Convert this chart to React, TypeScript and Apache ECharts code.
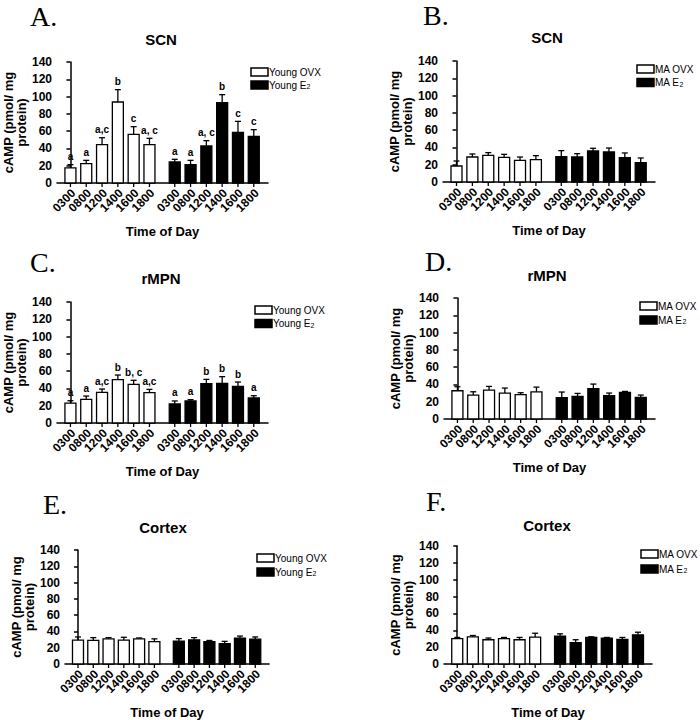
import React, { useEffect, useRef } from "react";
import * as echarts from "echarts";

// ---------- DATA ----------
const times = ["0300", "0800", "1200", "1400", "1600", "1800"];
const yTicks = [0, 20, 40, 60, 80, 100, 120, 140];

// Panel A – SCN, young
const A_OVX_mean = [17.4, 22.4, 44.3, 93.7, 56.3, 44.3];
const A_OVX_sem = [3.8, 3.8, 8.1, 14.3, 8.9, 7.4];
const A_OVX_sig = ["a", "a", "a,c", "b", "c", "a, c"];
const A_E2_mean = [24.3, 21.2, 42.8, 92.9, 58.6, 54.0];
const A_E2_sem = [3.1, 5.0, 6.2, 9.3, 12.7, 7.7];
const A_E2_sig = ["a", "a", "a, c", "b", "c", "c"];

// Panel B – SCN, middle-aged
const B_OVX_mean = [18.5, 28.9, 30.9, 28.5, 25.1, 25.8];
const B_OVX_sem = [5.8, 3.5, 3.1, 3.5, 3.8, 4.7];
const B_E2_mean = [29.3, 28.9, 35.9, 34.7, 28.2, 22.4];
const B_E2_sem = [7.0, 3.9, 3.1, 4.6, 5.4, 5.4];

// Panel C – rMPN, young
const C_OVX_mean = [23.1, 27.4, 35.5, 50.1, 44.7, 35.1];
const C_OVX_sem = [2.7, 3.8, 3.8, 5.4, 4.7, 3.8];
const C_OVX_sig = ["a", "a", "a,c", "b", "b, c", "a,c"];
const C_E2_mean = [22.0, 25.5, 45.5, 45.9, 42.4, 28.9];
const C_E2_sem = [3.5, 1.5, 5.0, 7.7, 5.0, 2.7];
const C_E2_sig = ["a", "a", "b", "b", "b", "a"];

// Panel D – rMPN, middle-aged
const D_OVX_mean = [32.7, 27.7, 33.5, 30.0, 28.1, 31.5];
const D_OVX_sem = [4.6, 3.8, 4.2, 5.8, 2.3, 5.4];
const D_E2_mean = [24.6, 26.2, 35.0, 26.9, 30.8, 25.0];
const D_E2_sem = [6.6, 3.4, 5.4, 3.1, 1.1, 2.7];

// Panel E – Cortex, young
const E_OVX_mean = [29.3, 28.9, 30.9, 29.3, 30.9, 27.4];
const E_OVX_sem = [3.9, 3.5, 1.5, 3.5, 1.1, 3.5];
const E_E2_mean = [28.2, 29.7, 27.4, 25.1, 31.6, 30.5];
const E_E2_sem = [3.0, 2.7, 1.5, 2.7, 2.7, 2.7];

// Panel F – Cortex, middle-aged
const F_OVX_mean = [30.0, 32.3, 28.8, 30.0, 28.8, 31.9];
const F_OVX_sem = [1.5, 1.5, 2.0, 1.5, 2.7, 4.6];
const F_E2_mean = [33.1, 25.4, 31.5, 30.8, 29.2, 34.6];
const F_E2_sem = [2.7, 3.4, 0.8, 0.7, 2.3, 3.1];

const youngNames = ["Young OVX", "Young E2"];
const maNames = ["MA OVX", "MA E2"];

// ---------- LAYOUT ----------
const SANS = '"Liberation Sans", Arial, sans-serif';
const SERIF = '"Liberation Serif", "Times New Roman", serif';
const GROUP2_OFFSET = 6.6;

const panels = [
  {
    letter: "A.", region: "SCN", names: youngNames,
    ovx: [A_OVX_mean, A_OVX_sem, A_OVX_sig], e2: [A_E2_mean, A_E2_sem, A_E2_sig],
    grid: { left: 57, top: 62, width: 211, height: 121 },
    letterPos: [30, 16], titlePos: [161, 39], legendPos: [251, 72, 85],
  },
  {
    letter: "B.", region: "SCN", names: maNames,
    ovx: [B_OVX_mean, B_OVX_sem, null], e2: [B_E2_mean, B_E2_sem, null],
    grid: { left: 443, top: 61, width: 212, height: 121 },
    letterPos: [423, 15], titlePos: [547, 37], legendPos: [637, 69, 82.5],
  },
  {
    letter: "C.", region: "rMPN", names: youngNames,
    ovx: [C_OVX_mean, C_OVX_sem, C_OVX_sig], e2: [C_E2_mean, C_E2_sem, C_E2_sig],
    grid: { left: 57, top: 302, width: 211, height: 121 },
    letterPos: [30, 262], titlePos: [161, 278], legendPos: [255, 310, 323.5],
  },
  {
    letter: "D.", region: "rMPN", names: maNames,
    ovx: [D_OVX_mean, D_OVX_sem, null], e2: [D_E2_mean, D_E2_sem, null],
    grid: { left: 444, top: 298, width: 211, height: 121 },
    letterPos: [425, 261], titlePos: [547, 275], legendPos: [640, 306, 320],
  },
  {
    letter: "E.", region: "Cortex", names: youngNames,
    ovx: [E_OVX_mean, E_OVX_sem, null], e2: [E_E2_mean, E_E2_sem, null],
    grid: { left: 65, top: 550, width: 204, height: 121 },
    letterPos: [43, 504], titlePos: [163, 527], legendPos: [257, 558, 572],
  },
  {
    letter: "F.", region: "Cortex", names: maNames,
    ovx: [F_OVX_mean, F_OVX_sem, null], e2: [F_E2_mean, F_E2_sem, null],
    grid: { left: 444, top: 546, width: 208, height: 121 },
    letterPos: [426, 501], titlePos: [547, 525], legendPos: [641, 554, 569],
  },
];

function barSeries(gi: number, name: string, group: any[], filled: boolean, offset: number) {
  const [means, sems, sig] = group;
  const data = means.map((m: number, i: number) => [offset + i, m, sems[i]]);
  return {
    type: "custom",
    name,
    xAxisIndex: gi,
    yAxisIndex: gi,
    clip: false,
    encode: { x: 0, y: [1, 2] },
    data,
    renderItem: (params: any, api: any) => {
      const i = params.dataIndex;
      const x = api.value(0);
      const m = api.value(1);
      const s = api.value(2);
      const base = api.coord([x, 0]);
      const top = api.coord([x, m]);
      const et = api.coord([x, m + s]);
      const bw = 11;
      const children: any[] = [
        { type: "line", shape: { x1: top[0], y1: top[1], x2: et[0], y2: et[1] }, style: { stroke: "#000", lineWidth: 1.3 } },
        { type: "line", shape: { x1: et[0] - 3, y1: et[1], x2: et[0] + 3, y2: et[1] }, style: { stroke: "#000", lineWidth: 1.3 } },
        {
          type: "rect",
          shape: { x: base[0] - bw / 2, y: top[1], width: bw, height: base[1] - top[1] },
          style: { fill: filled ? "#000" : "#fff", stroke: "#000", lineWidth: 1.3 },
        },
        { type: "line", shape: { x1: base[0], y1: base[1], x2: base[0], y2: base[1] + 4 }, style: { stroke: "#000", lineWidth: 1.3 } },
        {
          type: "text",
          x: base[0] + 3,
          y: base[1] + 8,
          rotation: Math.PI / 4,
          style: {
            text: times[i], x: 0, y: 0, align: "right", verticalAlign: "middle",
            fontFamily: SANS, fontWeight: "bold", fontSize: 12, fill: "#000",
          },
        },
      ];
      if (sig && sig[i]) {
        children.push({
          type: "text",
          x: et[0],
          y: et[1] - 3,
          style: {
            text: sig[i], x: 0, y: 0, align: "center", verticalAlign: "bottom",
            fontFamily: SANS, fontWeight: "bold", fontSize: 10, fill: "#000",
          },
        });
      }
      return { type: "group", children };
    },
  };
}

function buildOption() {
  const grid: any[] = [];
  const xAxis: any[] = [];
  const yAxis: any[] = [];
  const series: any[] = [];
  const graphic: any[] = [];

  panels.forEach((p, gi) => {
    grid.push({ ...p.grid, containLabel: false });
    xAxis.push({
      type: "value", gridIndex: gi, min: -0.85, max: 12.5,
      axisLabel: { show: false }, axisTick: { show: false }, splitLine: { show: false },
      axisLine: { lineStyle: { color: "#000", width: 1.5 } },
      name: "Time of Day", nameLocation: "middle", nameGap: 42,
      nameTextStyle: { fontFamily: SANS, fontWeight: "bold", fontSize: 13, color: "#000" },
    });
    yAxis.push({
      type: "value", gridIndex: gi, min: yTicks[0], max: yTicks[yTicks.length - 1], interval: 20,
      splitLine: { show: false },
      axisLine: { show: true, lineStyle: { color: "#000", width: 1.5 } },
      axisTick: { show: true, length: 4, lineStyle: { color: "#000", width: 1.5 } },
      axisLabel: { margin: 5, fontFamily: SANS, fontWeight: "bold", fontSize: 12, color: "#000" },
      name: "cAMP (pmol/ mg\nprotein)", nameLocation: "middle", nameRotate: 90, nameGap: 27,
      nameTextStyle: { fontFamily: SANS, fontWeight: "bold", fontSize: 13, color: "#000", lineHeight: 13 },
    });
    series.push(barSeries(gi, p.names[0], p.ovx, false, 0));
    series.push(barSeries(gi, p.names[1], p.e2, true, GROUP2_OFFSET));

    graphic.push({
      type: "text", x: p.letterPos[0], y: p.letterPos[1],
      style: { text: p.letter, align: "left", verticalAlign: "middle", fontFamily: SERIF, fontSize: 28, fill: "#000" },
    });
    graphic.push({
      type: "text", x: p.titlePos[0], y: p.titlePos[1],
      style: { text: p.region, align: "center", verticalAlign: "middle", fontFamily: SANS, fontWeight: "bold", fontSize: 15, fill: "#000" },
    });
    const [lx, ly1, ly2] = p.legendPos;
    const base2 = p.names[1].replace(/2$/, "");
    graphic.push({ type: "rect", shape: { x: lx, y: ly1 - 4, width: 17, height: 8 }, style: { fill: "#fff", stroke: "#000", lineWidth: 1.5 } });
    graphic.push({ type: "rect", shape: { x: lx, y: ly2 - 4, width: 17, height: 8 }, style: { fill: "#000", stroke: "#000", lineWidth: 1.5 } });
    graphic.push({
      type: "text", x: lx + 18, y: ly1,
      style: { text: p.names[0], align: "left", verticalAlign: "middle", fontFamily: SANS, fontSize: 10, fill: "#000" },
    });
    graphic.push({
      type: "text", x: lx + 18, y: ly2,
      style: {
        text: base2 + "{sub|2}", align: "left", verticalAlign: "middle", fontFamily: SANS, fontSize: 10, fill: "#000",
        rich: { sub: { fontFamily: SANS, fontSize: 7, verticalAlign: "bottom", lineHeight: 10, fill: "#000" } },
      },
    });
  });

  return { animation: false, backgroundColor: "#fff", grid, xAxis, yAxis, series, graphic };
}

export default function App() {
  const ref = useRef<HTMLDivElement>(null);
  useEffect(() => {
    document.body.style.margin = "0";
    if (!ref.current) return;
    const chart = echarts.init(ref.current, undefined, { renderer: "svg" });
    chart.setOption(buildOption() as any);
    return () => chart.dispose();
  }, []);
  return <div ref={ref} style={{ width: 700, height: 720 }} />;
}
